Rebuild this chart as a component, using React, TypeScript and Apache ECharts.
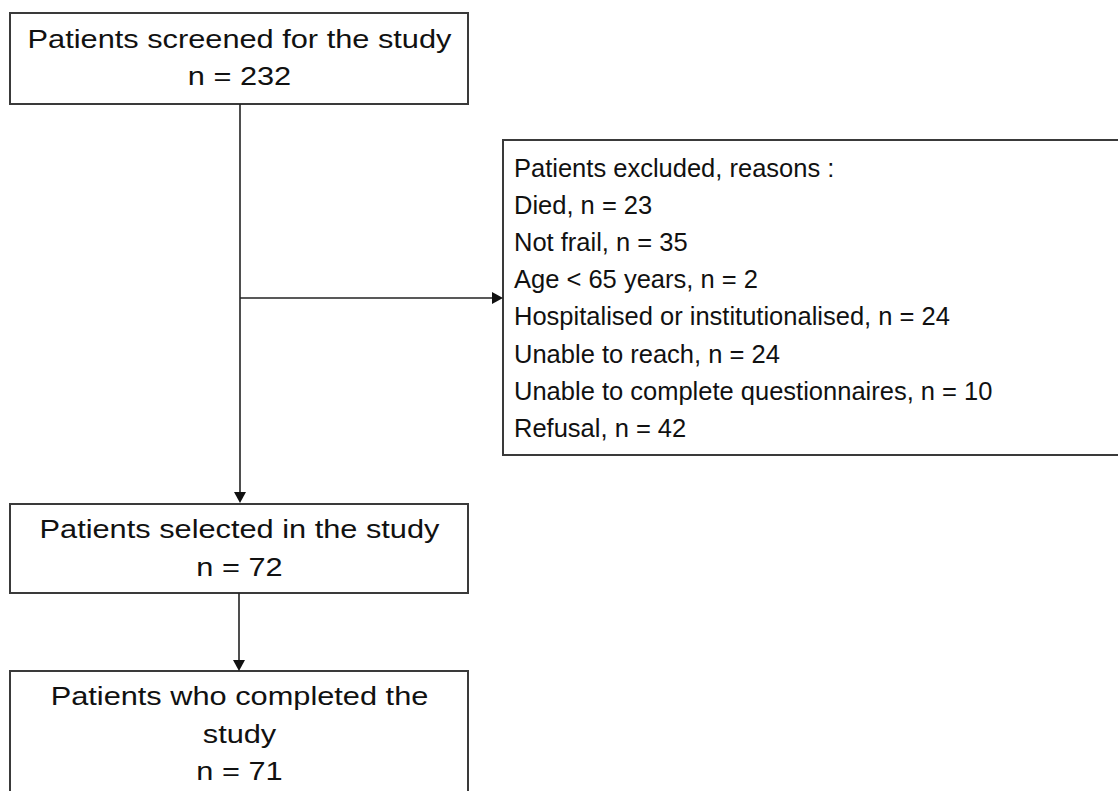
import React, { useEffect, useRef } from "react";
import * as echarts from "echarts";

const screenedLines = ["Patients screened for the study", "n = 232"];
const selectedLines = ["Patients selected in the study", "n = 72"];
const completedLines = ["Patients who completed the", "study", "n = 71"];
const exclusionHeader = "Patients excluded, reasons :";
const exclusionReasons = [
  "Died",
  "Not frail",
  "Age < 65 years",
  "Hospitalised or institutionalised",
  "Unable to reach",
  "Unable to complete questionnaires",
  "Refusal",
];
const exclusionCounts = [23, 35, 2, 24, 24, 10, 42];

const FONT = '"Liberation Sans", Arial, sans-serif';
const TEXT_COLOR = "#111";
const BORDER = "#3a3a3a";

function boxText(lines: string[], cx: number, ys: number[]) {
  return lines.map((t, i) => ({
    type: "text",
    x: cx,
    y: ys[i],
    scaleX: 1.23,
    style: {
      text: t,
      x: 0,
      y: 0,
      align: "center",
      verticalAlign: "middle",
      fontFamily: FONT,
      fontSize: 25,
      fill: TEXT_COLOR,
    },
  }));
}

export default function App() {
  const ref = useRef<HTMLDivElement>(null);
  useEffect(() => {
    if (!ref.current) return;
    const chart = echarts.init(ref.current, null, { renderer: "svg" });
    const rightLines = [
      exclusionHeader,
      ...exclusionReasons.map((r, i) => `${r}, n = ${exclusionCounts[i]}`),
    ];
    const elements: any[] = [
      // boxes
      { type: "rect", shape: { x: 10, y: 13, width: 458, height: 91 }, style: { fill: "#fff", stroke: BORDER, lineWidth: 2 } },
      { type: "rect", shape: { x: 10, y: 504, width: 458, height: 89 }, style: { fill: "#fff", stroke: BORDER, lineWidth: 2 } },
      { type: "rect", shape: { x: 10, y: 671, width: 458, height: 140 }, style: { fill: "#fff", stroke: BORDER, lineWidth: 2 } },
      { type: "rect", shape: { x: 503, y: 140, width: 640, height: 315 }, style: { fill: "#fff", stroke: BORDER, lineWidth: 2 } },
      // connectors
      { type: "line", shape: { x1: 240, y1: 104, x2: 240, y2: 494 }, style: { stroke: "#222", lineWidth: 1.6 } },
      { type: "polygon", shape: { points: [[234, 492], [246, 492], [240, 503]] }, style: { fill: "#111" } },
      { type: "line", shape: { x1: 240, y1: 298, x2: 495, y2: 298 }, style: { stroke: "#222", lineWidth: 1.6 } },
      { type: "polygon", shape: { points: [[492, 292], [492, 304], [503, 298]] }, style: { fill: "#111" } },
      { type: "line", shape: { x1: 239, y1: 593, x2: 239, y2: 662 }, style: { stroke: "#222", lineWidth: 1.6 } },
      { type: "polygon", shape: { points: [[233, 660], [245, 660], [239, 671]] }, style: { fill: "#111" } },
      ...boxText(screenedLines, 239.5, [40, 77]),
      ...boxText(selectedLines, 239.5, [530, 568]),
      ...boxText(completedLines, 239.5, [697, 735, 772]),
      ...rightLines.map((t, i) => ({
        type: "text",
        x: 514,
        y: 168 + i * 37.1,
        style: {
          text: t,
          x: 0,
          y: 0,
          align: "left",
          verticalAlign: "middle",
          fontFamily: FONT,
          fontSize: 25.5,
          fill: TEXT_COLOR,
        },
      })),
    ];
    chart.setOption({
      animation: false,
      backgroundColor: "#fff",
      graphic: { elements },
    });
    return () => chart.dispose();
  }, []);
  return (
    <div
      ref={ref}
      style={{ position: "fixed", left: 0, top: 0, width: 1118, height: 791, background: "#fff" }}
    />
  );
}
